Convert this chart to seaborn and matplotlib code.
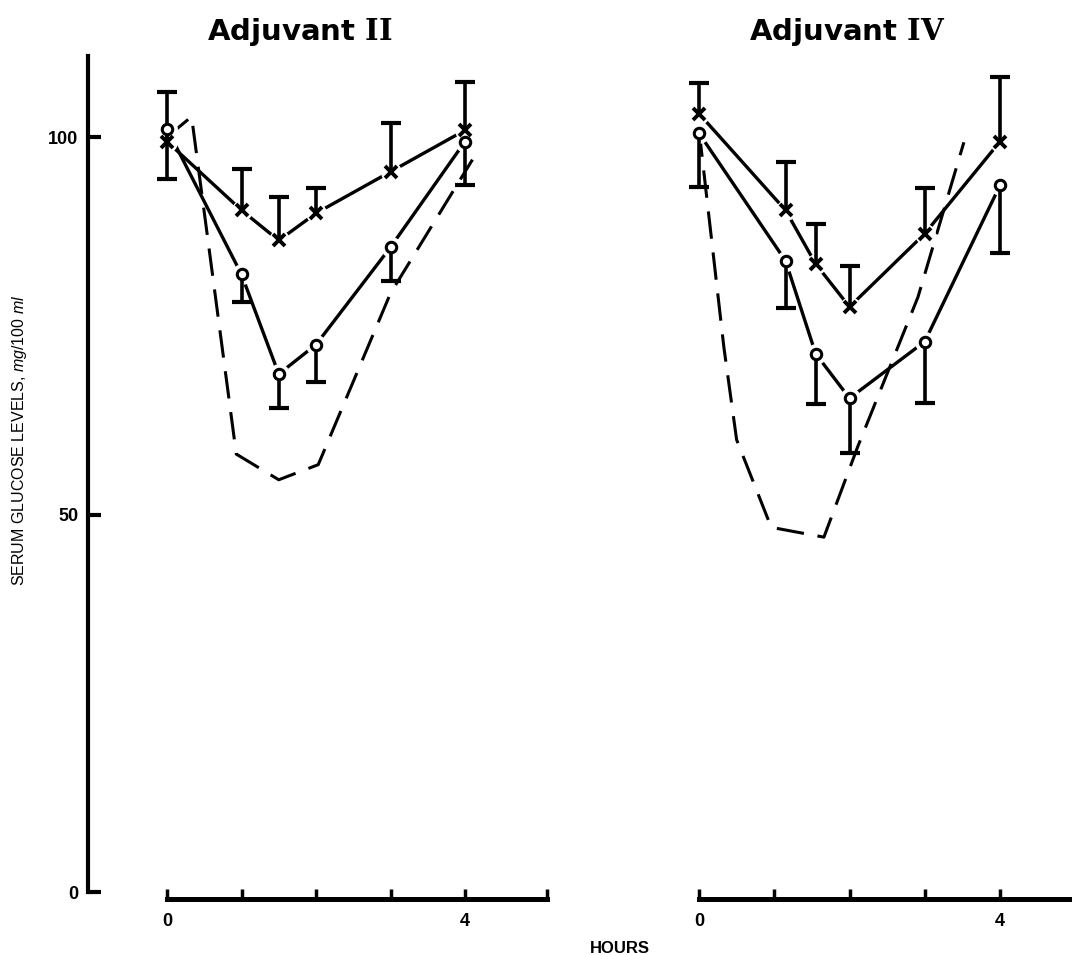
import matplotlib
matplotlib.use("Agg")
import matplotlib.pyplot as plt
import seaborn as sns
import numpy as np

# ---------------- data ----------------
hours_ticks = [0, 1, 2, 3, 4]
tick_labels = ["0", "", "", "", "4"]

# Adjuvant II
t_II = [0, 1, 1.5, 2, 3, 4]
cross_II = [99.4, 90.3, 86.3, 89.9, 95.4, 100.9]
cross_II_err = [6.6, 5.5, 5.8, 3.4, 6.5, 6.4]
circ_II = [101.1, 81.8, 68.6, 72.5, 85.4, 99.4]
circ_II_err = [6.6, 3.6, 4.5, 5.0, 4.5, 5.8]
dash_II_t = [0, 0.33, 0.93, 1.5, 2.03, 3.0, 4.1]
dash_II = [100.0, 102.7, 58.0, 54.6, 56.6, 79.3, 97.0]

# Adjuvant IV
t_IV = [0, 1.15, 1.55, 2, 3, 4]
cross_IV = [103.1, 90.3, 83.2, 77.5, 87.2, 99.4]
cross_IV_err = [4.0, 6.4, 5.3, 5.4, 6.0, 8.6]
circ_IV = [100.5, 83.6, 71.3, 65.4, 72.9, 93.6]
circ_IV_err = [7.1, 6.3, 6.7, 7.3, 8.1, 8.9]
dash_IV_t = [0, 0.33, 0.5, 0.96, 1.66, 2.11, 2.91, 3.52]
dash_IV = [101.0, 72.2, 59.9, 48.3, 47.0, 59.0, 78.8, 99.3]

titles = ["Adjuvant $\\mathbf{II}$", "Adjuvant $\\mathbf{IV}$"]
y_ticks = [0, 50, 100]
y_label = "SERUM GLUCOSE LEVELS, $\\mathit{mg/100\\ ml}$"
x_label = "HOURS"

# ---------------- style ----------------
sns.set_style("white")
plt.rcParams["font.family"] = ["Liberation Sans", "DejaVu Sans"]
plt.rcParams["text.color"] = "black"
plt.rcParams["xtick.color"] = "black"
plt.rcParams["ytick.color"] = "black"
plt.rcParams["xtick.labelcolor"] = "black"
plt.rcParams["ytick.labelcolor"] = "black"
plt.rcParams["mathtext.fontset"] = "custom"
plt.rcParams["mathtext.rm"] = "Liberation Sans"
plt.rcParams["mathtext.it"] = "Liberation Sans:italic"
plt.rcParams["mathtext.bf"] = "DejaVu Serif:bold"

W, H = 1072, 955
fig = plt.figure(figsize=(W / 100, H / 100), dpi=100)
fig.patch.set_facecolor("white")

ymax = 836 / 7.55
axL = fig.add_axes([88 / W, 63 / H, 472 / W, 836 / H])
axR = fig.add_axes([620 / W, 63 / H, 452 / W, 836 / H])
axL.set_xlim(-79 / 74.5, 393 / 74.5)
axR.set_xlim(-79 / 75.25, 373 / 75.25)

LW = 2.4


def draw_panel(ax, t, cr, cr_e, ci, ci_e, dt, dy):
    t = np.asarray(t)
    cr = np.asarray(cr)
    ci = np.asarray(ci)
    cr_top = cr + np.asarray(cr_e)
    ci_bot = ci - np.asarray(ci_e)
    sns.lineplot(x=dt, y=dy, ax=ax, color="black", lw=2.2,
                 linestyle=(0, (9, 4.5)), errorbar=None, sort=False, zorder=2)
    sns.lineplot(x=t, y=cr, ax=ax, color="black", lw=LW, errorbar=None, zorder=2)
    sns.lineplot(x=t, y=ci, ax=ax, color="black", lw=LW, errorbar=None, zorder=2)
    # white halos giving the small gaps around the symbols
    ax.plot(t, cr, ls="none", marker="o", ms=15, mfc="white", mec="none", zorder=3)
    ax.plot(t, ci, ls="none", marker="o", ms=15, mfc="white", mec="none", zorder=3)
    # one-sided error bars: crosses upward, circles downward
    ax.vlines(t, cr, cr_top, color="black", lw=2.6, zorder=4)
    ax.vlines(t, ci_bot, ci, color="black", lw=2.6, zorder=4)
    ax.plot(t, cr_top, ls="none", marker="_", ms=15, mew=3, color="black", zorder=4)
    ax.plot(t, ci_bot, ls="none", marker="_", ms=15, mew=3, color="black", zorder=4)
    ax.plot(t, cr, ls="none", marker="x", ms=9, mew=2.8, color="black", zorder=5)
    ax.plot(t, ci, ls="none", marker="o", ms=7.5, mew=2.2, mfc="white",
            mec="black", zorder=5)
    ax.set_ylim(0, ymax)
    ax.set_xlabel("")
    ax.set_ylabel("")
    for s in ["top", "right"]:
        ax.spines[s].set_visible(False)
    ax.spines["bottom"].set_position(("outward", 5))
    ax.spines["bottom"].set_linewidth(3.6)
    ax.spines["bottom"].set_color("black")
    ax.tick_params(axis="x", bottom=True, direction="in", length=7, width=2.5,
                   color="black", pad=10, labelsize=13)


draw_panel(axL, t_II, cross_II, cross_II_err, circ_II, circ_II_err, dash_II_t, dash_II)
draw_panel(axR, t_IV, cross_IV, cross_IV_err, circ_IV, circ_IV_err, dash_IV_t, dash_IV)

# left panel axes
axL.set_xticks(hours_ticks + [5.1])
axL.set_xticklabels(tick_labels + [""], fontweight="bold", fontsize=13)
axL.spines["bottom"].set_bounds(0, 5.1)
axL.spines["left"].set_linewidth(3)
axL.spines["left"].set_color("black")
axL.set_yticks(y_ticks)
axL.set_yticklabels([str(v) for v in y_ticks], fontweight="bold", fontsize=13)
axL.tick_params(axis="y", left=True, direction="in", length=9, width=3,
                color="black", pad=7)

# right panel axes
axR.set_xticks(hours_ticks)
axR.set_xticklabels(tick_labels, fontweight="bold", fontsize=13)
axR.spines["bottom"].set_bounds(0, 373 / 75.25)
axR.spines["left"].set_visible(False)
axR.set_yticks([])

# titles and labels
fig.text(300 / W, 1 - 40 / H, titles[0], ha="center", va="baseline",
         fontsize=21, fontweight="bold", family=["DejaVu Sans"], color="black")
fig.text(847 / W, 1 - 40 / H, titles[1], ha="center", va="baseline",
         fontsize=21, fontweight="bold", family=["DejaVu Sans"], color="black")
fig.text(20 / W, 1 - 440 / H, y_label, rotation=90, ha="center", va="center",
         fontsize=11.5, color="black")
fig.text(620 / W, 1 - 948 / H, x_label, ha="center", va="center",
         fontsize=12, fontweight="bold", color="black")

fig.savefig("out.png", dpi=100, facecolor="white")
